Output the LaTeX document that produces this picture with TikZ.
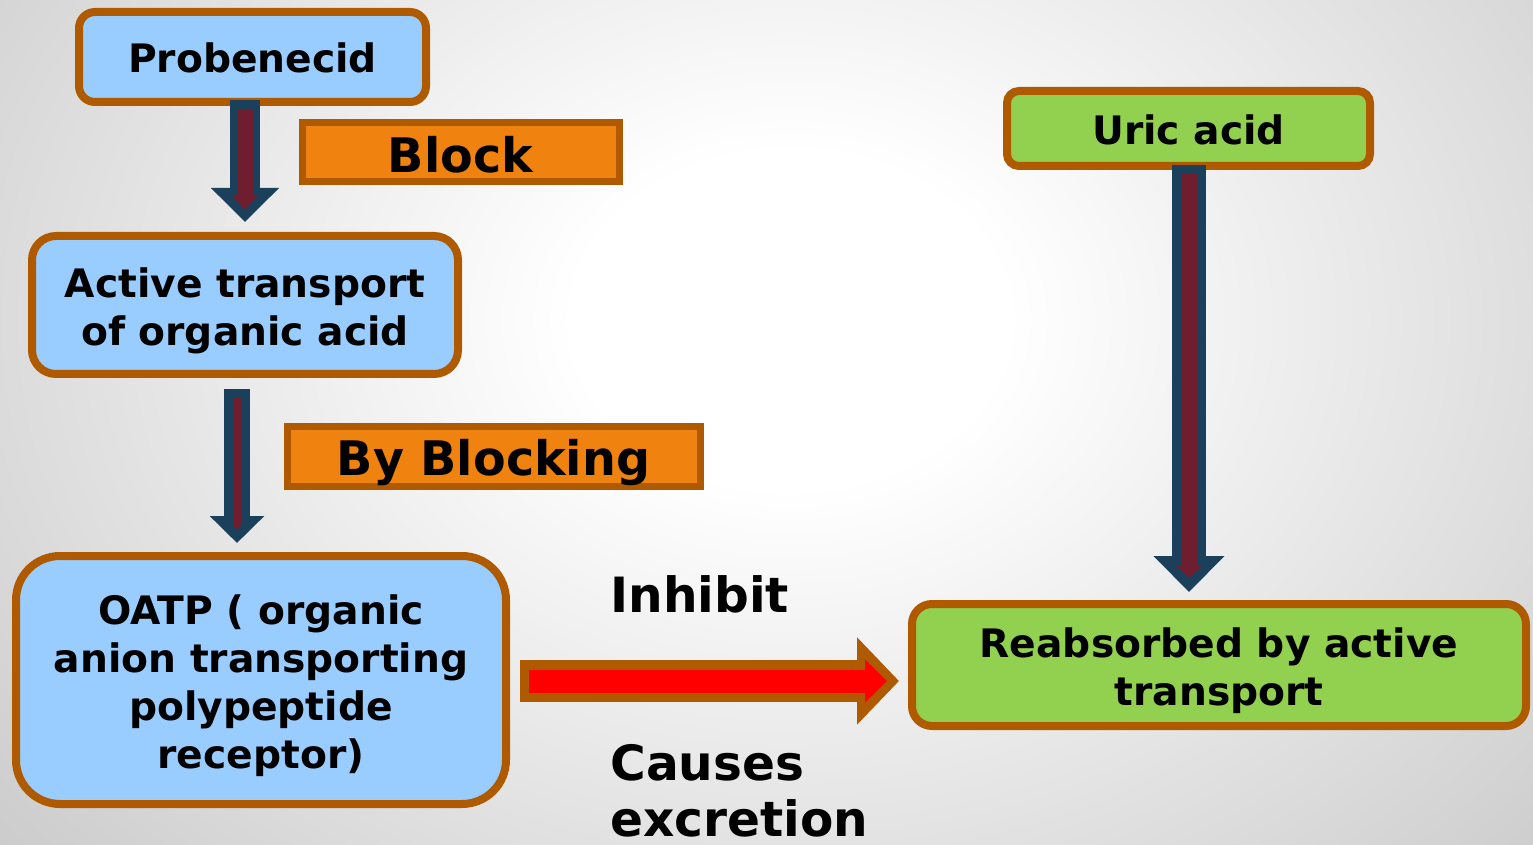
\documentclass[tikz,border=0pt]{standalone}
\usepackage{fontspec}
\setmainfont{DejaVu Sans}
\usetikzlibrary{arrows.meta,calc}
\definecolor{bord}{HTML}{B05A00}
\definecolor{lblue}{HTML}{99CCFF}
\definecolor{lgreen}{HTML}{92D050}
\definecolor{orng}{HTML}{F0820F}
\definecolor{dblue}{HTML}{1A405C}
\definecolor{dred}{HTML}{6E1E2E}
\pgfdeclareradialshading{bgshade}{\pgfpoint{0bp}{0bp}}{color(0bp)=(white); color(6bp)=(white); color(30bp)=(black!21); color(50bp)=(black!37)}
\begin{document}
\begin{tikzpicture}[x=0.5pt,y=-0.5pt,
  box/.style={draw=bord, line width=4pt, inner sep=0pt},
  bluebox/.style={box, fill=lblue},
  greenbox/.style={box, fill=lgreen},
  boxtext/.style={inner sep=0pt, align=center, font=\bfseries\fontsize{19.6}{24}\selectfont},
  orangebox/.style={draw=bord, line width=3.5pt, fill=orng, inner sep=0pt},
  orangetext/.style={inner sep=0pt, font=\bfseries\fontsize{23.8}{28}\selectfont},
  bigtext/.style={font=\bfseries\fontsize{24.3}{28}\selectfont, inner sep=0pt, align=left},
]
\useasboundingbox (0,0) rectangle (1533,845);
\begin{scope}
\clip (0,0) rectangle (1533,845);
\shade[shading=bgshade] (-110,-380) rectangle (1690,1020);
\end{scope}

\node[bluebox, rounded corners=8pt, minimum width=173.5pt, minimum height=45pt] (prob) at (252.5,57) {};
\node[boxtext] (probt) at ($(prob.center)+(0,1)$) {Probenecid};
\node[orangebox, minimum width=158.5pt, minimum height=29.5pt] (block) at (460.5,152.5) {};
\node[orangetext] (blockt) at ($(block.center)+(0,2)$) {Block};
\node[bluebox, rounded corners=12pt, minimum width=213pt, minimum height=69pt] (act) at (245,305) {};
\node[boxtext] (actt) at ($(act.center)+(0,6)$) {Active transport\\of organic acid};
\node[orangebox, minimum width=206.5pt, minimum height=30pt] (byb) at (493.5,457) {};
\node[orangetext] (bybt) at ($(byb.center)+(0,6)$) {By Blocking};
\node[bluebox, rounded corners=22pt, minimum width=245pt, minimum height=124pt] (oatp) at (261,680) {};
\node[boxtext] (oatpt) at ($(oatp.center)+(0,6)$) {OATP ( organic\\anion transporting\\polypeptide\\receptor)};
\node[greenbox, rounded corners=6pt, minimum width=181.5pt, minimum height=37.5pt] (uric) at (1188.5,128.5) {};
\node[boxtext] (urict) at ($(uric.center)+(0,1.5)$) {Uric acid};
\node[greenbox, rounded corners=10pt, minimum width=307pt, minimum height=61pt] (reab) at (1219,665) {};
\node[boxtext] (reabt) at ($(reab.center)+(0,6)$) {Reabsorbed by active\\transport};

\node[bigtext, anchor=base west] (inh) at (610,612) {Inhibit};
\node[bigtext, anchor=base west] (caus) at (610,836) {Causes\\excretion};

\coordinate (a1) at (245,0);
\coordinate (a2) at (237,0);
\coordinate (a3) at (1189,0);
\coordinate (ry) at (0,681);

% arrow 1
\draw[dblue, line width=15pt, shorten <=-3pt, shorten >=5pt, -{Triangle[length=17pt,width=33pt]}] (prob.south -| a1) -- (act.north -| a1);
\draw[dred, line width=8pt, shorten <=2pt, shorten >=11pt, -{Triangle[length=7.5pt,width=13pt]}] (prob.south -| a1) -- (act.north -| a1);
% arrow 2
\draw[dblue, line width=13pt, shorten <=5.5pt, shorten >=4.5pt, -{Triangle[length=13.5pt,width=26.5pt]}] (act.south -| a2) -- (oatp.north -| a2);
\draw[dred, line width=4pt, shorten <=9.5pt, shorten >=11pt, -{Triangle[length=3.5pt,width=5pt]}] (act.south -| a2) -- (oatp.north -| a2);
% arrow 3
\draw[dblue, line width=17pt, shorten <=-2.5pt, shorten >=4pt, -{Triangle[length=18pt,width=34.5pt]}] (uric.south -| a3) -- (reab.north -| a3);
\draw[dred, line width=8pt, shorten <=1.5pt, shorten >=11pt, -{Triangle[length=6.5pt,width=13.5pt]}] (uric.south -| a3) -- (reab.north -| a3);
% red arrow
\draw[bord, line width=21pt, shorten <=5pt, shorten >=4.5pt, -{Triangle[length=21pt,width=42.5pt]}] (oatp.east |- ry) -- (reab.west |- ry);
\draw[red, line width=11.5pt, shorten <=9.5pt, shorten >=10.5pt, -{Triangle[length=11pt,width=21pt]}] (oatp.east |- ry) -- (reab.west |- ry);
\end{tikzpicture}
\end{document}
